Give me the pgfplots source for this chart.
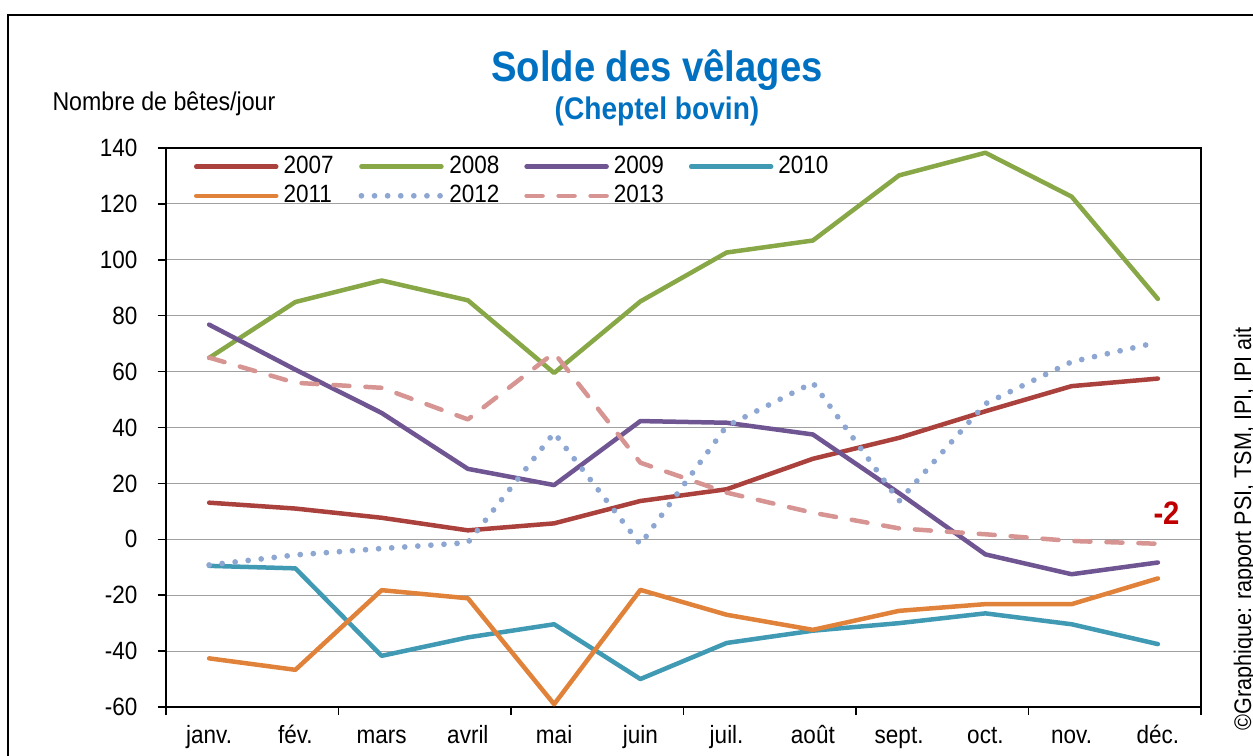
\documentclass[border=0pt]{standalone}
\usepackage{fontspec}
\setmainfont{Liberation Sans}[FakeStretch=0.9]
\usepackage{pgfplots}
\pgfplotsset{compat=1.18}

\definecolor{c2007}{RGB}{170,65,60}
\definecolor{c2008}{RGB}{136,168,72}
\definecolor{c2009}{RGB}{111,85,146}
\definecolor{c2010}{RGB}{64,154,180}
\definecolor{c2011}{RGB}{224,130,58}
\definecolor{c2012}{RGB}{142,167,210}
\definecolor{c2013}{RGB}{214,148,146}
\definecolor{titleblue}{RGB}{0,112,192}
\definecolor{gridgray}{RGB}{160,160,160}
\definecolor{labelred}{RGB}{192,0,0}

\begin{document}
\begin{tikzpicture}
\useasboundingbox (0,0) rectangle (501.2pt,302.4pt);
\clip (0,0) rectangle (501.2pt,302.4pt);
\draw[line width=0.8pt] (3.2pt,-10pt) -- (3.2pt,296.4pt) -- (520pt,296.4pt);

\begin{axis}[
  at={(66.4pt,19.6pt)}, anchor=south west,
  scale only axis,
  width=414pt, height=223.6pt,
  xmin=-0.5, xmax=11.5,
  ymin=-60, ymax=140,
  ytick={-60,-40,...,140},
  xtick={-0.5,1.5,3.5,5.5,7.5,9.5,11.5},
  xticklabels={},
  extra x ticks={0,1,2,3,4,5,6,7,8,9,10,11},
  extra x tick labels={janv.,fév.,mars,avril,mai,juin,juil.,août,sept.,oct.,nov.,déc.},
  extra x tick style={major tick length=0pt, grid=none},
  xtick pos=bottom, ytick pos=left,
  tick align=outside,
  major tick length=3.3pt,
  tick style={black, line width=0.6pt},
  axis line style={black, line width=0.9pt},
  ymajorgrids,
  major grid style={gridgray, line width=0.45pt},
  /pgf/number format/assume math mode=true,
  ticklabel style={font=\fontsize{10}{12}\selectfont},
  yticklabel style={anchor=east, inner sep=0pt, xshift=-7.9pt},
  xticklabel style={anchor=base, inner sep=0pt, yshift=-14.8pt},
  clip=false,
  every axis plot/.append style={line width=1.8pt, line cap=round, line join=round},
  legend columns=4,
  legend style={at={(axis description cs:0,1)}, anchor=north west,
    xshift=8pt, yshift=1pt, draw=none, fill=none,
    font=\fontsize{10}{12}\selectfont,
    row sep=-0.8pt,
    /tikz/every odd column/.append style={column sep=0pt},
    /tikz/every even column/.append style={column sep=8pt}},
  legend cell align=left,
  legend image code/.code={\draw[#1] (0pt,0pt) -- (32pt,0pt);},
]
\addplot[c2007] coordinates {(0,13.1) (1,11) (2,7.7) (3,3.2) (4,5.7) (5,13.7) (6,17.9) (7,28.8) (8,36.3) (9,45.8) (10,54.8) (11,57.5)};
\addlegendentry{2007}
\addplot[c2008] coordinates {(0,64.9) (1,84.9) (2,92.6) (3,85.5) (4,59.5) (5,85.1) (6,102.6) (7,106.9) (8,130.2) (9,138.3) (10,122.6) (11,86)};
\addlegendentry{2008}
\addplot[c2009] coordinates {(0,76.8) (1,60.7) (2,45.2) (3,25.2) (4,19.4) (5,42.3) (6,41.7) (7,37.5) (8,16.5) (9,-5.4) (10,-12.5) (11,-8.3)};
\addlegendentry{2009}
\addplot[c2010] coordinates {(0,-9.5) (1,-10.4) (2,-41.7) (3,-35.1) (4,-30.4) (5,-50) (6,-37.1) (7,-32.7) (8,-30) (9,-26.5) (10,-30.4) (11,-37.5)};
\addlegendentry{2010}
\addplot[c2011] coordinates {(0,-42.6) (1,-46.7) (2,-18.2) (3,-21.1) (4,-59) (5,-18.1) (6,-27) (7,-32.4) (8,-25.6) (9,-23.2) (10,-23.2) (11,-14)};
\addlegendentry{2011}
\addplot[c2012, line width=2.3pt, dash pattern=on 0pt off 5.24pt] coordinates {(0,-9.2) (1,-5.6) (2,-3.3) (3,-1.2) (4,38.1) (5,-1.8) (6,40.5) (7,56) (8,13.7) (9,48.5) (10,63.5) (11,70.5)};
\addlegendentry{2012}
\addplot[c2013, dash pattern=on 6.4pt off 6.4pt] coordinates {(0,65) (1,56) (2,54.2) (3,42.9) (4,66.7) (5,27.4) (6,16.7) (7,9.5) (8,3.9) (9,1.8) (10,-0.6) (11,-1.6)};
\addlegendentry{2013}
\node[anchor=base, text=labelred, font=\bfseries\fontsize{13}{15}\selectfont, inner sep=0pt] at (axis cs:11.1,5.4) {-2};
\end{axis}

\node[anchor=base, text=titleblue, font=\bfseries\fontsize{17}{20}\selectfont, inner sep=0pt] at (262.8pt,269.6pt) {Solde des vêlages};
\node[anchor=base, text=titleblue, font=\bfseries\fontsize{12.5}{15}\selectfont, inner sep=0pt] at (262.8pt,254.4pt) {(Cheptel bovin)};
\node[anchor=base west, font=\fontsize{10.3}{12}\selectfont, inner sep=0pt] at (20.8pt,258pt) {Nombre de bêtes/jour};
\node[anchor=base west, rotate=90, font=\fontsize{9.6}{11}\selectfont, inner sep=0pt] at (500.4pt,10pt) {©Graphique: rapport PSI, TSM, IPI, IPI ait};
\end{tikzpicture}
\end{document}
